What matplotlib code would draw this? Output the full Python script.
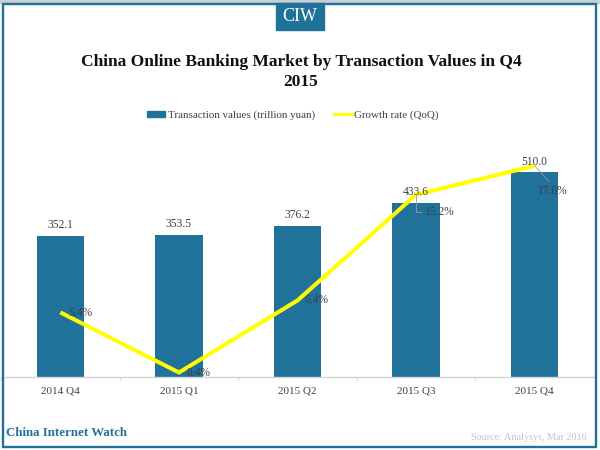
import matplotlib
matplotlib.use("Agg")
import matplotlib.pyplot as plt
from matplotlib.patches import Rectangle
from matplotlib.lines import Line2D

quarters = ["2014 Q4", "2015 Q1", "2015 Q2", "2015 Q3", "2015 Q4"]
transaction_values = [352.1, 353.5, 376.2, 433.6, 510.0]
growth_rates = [5.4, 0.4, 6.4, 15.2, 17.6]
value_labels = ["352.1", "353.5", "376.2", "433.6", "510.0"]
growth_labels = ["5.4%", "0.4%", "6.4%", "15.2%", "17.6%"]

TEAL = "#21729b"
YELLOW = "#ffff00"
TXT = "#404040"
W, H = 600, 450
plt.rcParams["font.family"] = ["Liberation Serif", "DejaVu Serif"]

fig = plt.figure(figsize=(6, 4.5), dpi=100, facecolor="white")


def box(x0, y0, x1, y1):
    return [x0 / W, 1 - y1 / H, (x1 - x0) / W, (y1 - y0) / H]


ax = fig.add_axes(box(1.1, 130, 594, 377.3))
ax.set_xlim(-0.5, 4.5)
ax.set_ylim(0, 615.6)
ax.patch.set_alpha(0)
for s in ["top", "left", "right"]:
    ax.spines[s].set_visible(False)
ax.spines["bottom"].set_color("#d4d4d4")
ax.spines["bottom"].set_linewidth(1)
xs = list(range(len(quarters)))
bars = ax.bar(xs, transaction_values, width=0.4, color=TEAL, zorder=2)
ax.set_xticks(xs)
ax.set_xticklabels(quarters, fontsize=8.0, color=TXT)
ax.set_xticks([i + 0.5 for i in xs[:-1]] + [-0.5], minor=True)
ax.tick_params(axis="x", which="major", length=0, pad=6.5)
ax.tick_params(axis="x", which="minor", length=2.2, color="#d4d4d4", width=1)
ax.set_yticks([])

ax2 = ax.twinx()
ax2.set_ylim(0, 20.58)
ax2.set_yticks([])
for s in ax2.spines.values():
    s.set_visible(False)
line, = ax2.plot(xs, growth_rates, color=YELLOW, lw=2.9, zorder=3,
                 solid_capstyle="butt", solid_joinstyle="miter")

for x, v, lab in zip(xs, transaction_values, value_labels):
    ax2.annotate(lab, xy=(x, v / 615.6 * 20.58), xytext=(0, 3.5), textcoords="offset points",
                 ha="center", va="bottom", fontsize=8.3, color=TXT, zorder=6)

offsets = [(14, -0.5), (14.5, -0.5), (14, 0), (16.5, -12.5), (12.5, -18)]
for i, (x, g, lab, off) in enumerate(zip(xs, growth_rates, growth_labels, offsets)):
    props = None
    if i == 3:
        props = dict(arrowstyle="-", color="#999999", lw=0.6, shrinkA=0, shrinkB=0,
                     connectionstyle="angle,angleA=0,angleB=90,rad=0", relpos=(0, 0.5))
    if i == 4:
        props = dict(arrowstyle="-", color="#999999", lw=0.6, shrinkA=0, shrinkB=0,
                     relpos=(0.5, 1))
    ax2.annotate(lab, xy=(x, g), xytext=off, textcoords="offset points",
                 ha="center", va="center", fontsize=8.3, color=TXT, zorder=6,
                 arrowprops=props)

leg = fig.legend(
    [Rectangle((0, 0), 1, 1, color=TEAL), Line2D([0], [0], color=YELLOW, lw=2.2)],
    ["Transaction values (trillion yuan)", "Growth rate (QoQ)"],
    loc="center", bbox_to_anchor=(293 / W, 1 - 115 / H), ncol=2, frameon=False,
    fontsize=7.9, labelcolor=TXT, handlelength=1.65, handleheight=0.5,
    handletextpad=0.2, columnspacing=1.75, borderpad=0, borderaxespad=0)

fig.text(301 / W, 1 - 61.5 / H, "China Online Banking Market by Transaction Values in Q4",
         ha="center", va="center", fontsize=12.5, fontweight="bold", color="#111111")
fig.text(301 / W, 1 - 82.5 / H, "2015", ha="center", va="center",
         fontsize=12.5, fontweight="bold", color="#111111")

# page frame and badge
fig.add_artist(Rectangle((0, 1 - 3 / H), 1, 3 / H, transform=fig.transFigure, color="#c9cfd3", zorder=0))
fig.add_artist(Rectangle((3 / W, 3.2 / H), 593.3 / W, 442.5 / H, transform=fig.transFigure,
                         fill=False, ec=TEAL, lw=1.7, zorder=7))
fig.add_artist(Rectangle((276 / W, 1 - 30 / H), 48 / W, 27 / H, transform=fig.transFigure,
                         color=TEAL, zorder=8))
fig.text(300 / W, 1 - 16.5 / H, "CIW", ha="center", va="center", fontsize=13,
         color="white", zorder=9)
fig.text(5.5 / W, 1 - 433 / H, "China Internet Watch", ha="left", va="center",
         fontsize=9.3, fontweight="bold", color=TEAL)
fig.text(587 / W, 1 - 437.5 / H, "Source: Analysys, Mar 2016", ha="right", va="center",
         fontsize=7.3, color="#c4c4c4")

fig.savefig("out.png", dpi=100, facecolor="white")
